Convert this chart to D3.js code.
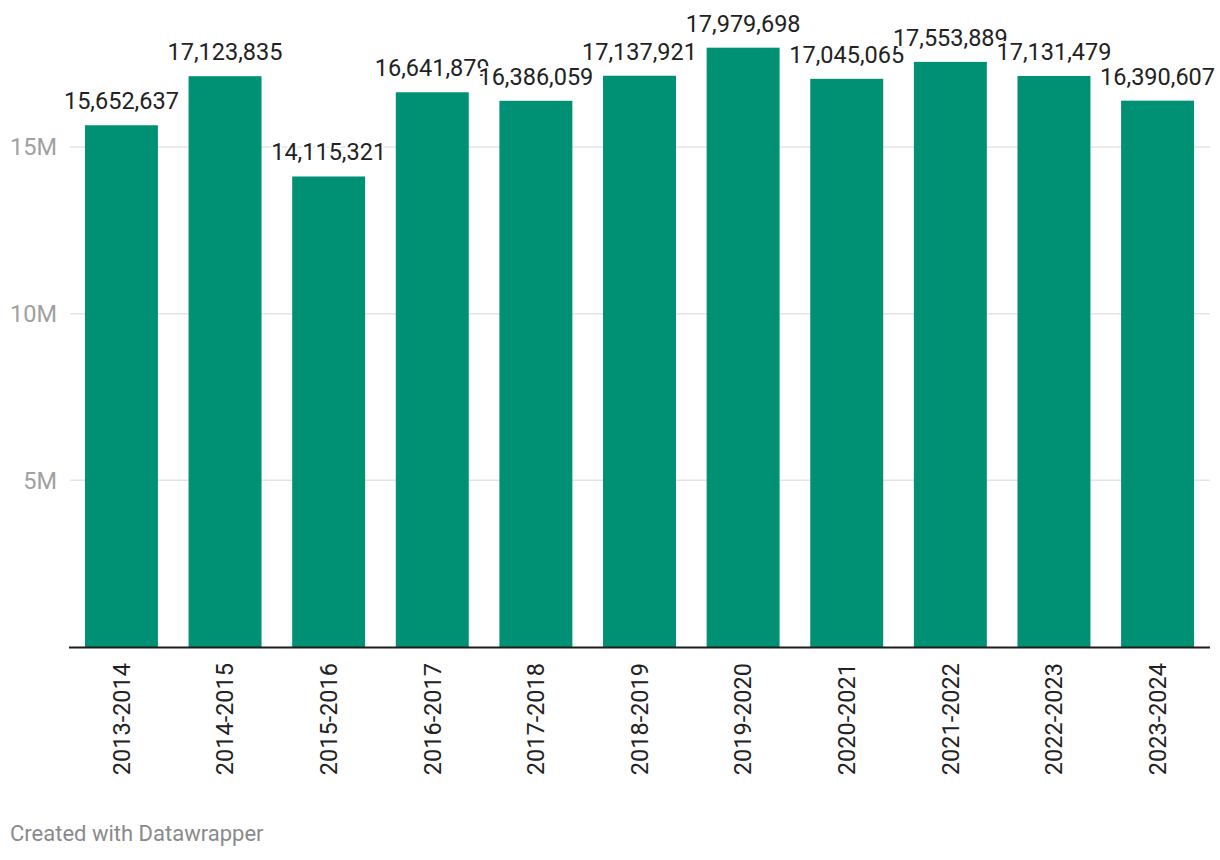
<!DOCTYPE html>
<html>
<head>
<meta charset="utf-8">
<script src="https://cdn.jsdelivr.net/npm/d3@7"></script>
<style>
  html, body { margin: 0; padding: 0; background: #fff; }
  svg { display: block; font-family: Roboto, "Noto Sans", sans-serif; }
</style>
</head>
<body>
<svg id="chart" width="1220" height="860"></svg>
<script>
const categories = ["2013-2014","2014-2015","2015-2016","2016-2017","2017-2018","2018-2019","2019-2020","2020-2021","2021-2022","2022-2023","2023-2024"];
const values = [15652637,17123835,14115321,16641879,16386059,17137921,17979698,17045065,17553889,17131479,16390607];
const yTicks = [5000000, 10000000, 15000000];
const yTickLabels = ["5M", "10M", "15M"];
const footer = "Created with Datawrapper";

const svg = d3.select("#chart");
const mLeft = 69, mRight = 1210, mTop = 47, mBottom = 647;

const x = d3.scaleBand().domain(categories).range([mLeft, mRight]).paddingInner(0.296).paddingOuter(0.154);
const y = d3.scaleLinear().domain([0, 18000000]).range([mBottom, mTop]);

// gridlines
svg.append("g").selectAll("line").data(yTicks).join("line")
  .attr("x1", mLeft + 1).attr("x2", mRight)
  .attr("y1", d => y(d)).attr("y2", d => y(d))
  .attr("stroke", "#e4e4e4").attr("stroke-width", 1.5);

// y labels
svg.append("g").selectAll("text").data(yTicks).join("text")
  .attr("x", 57).attr("y", d => y(d))
  .attr("dy", "0.35em")
  .attr("text-anchor", "end")
  .attr("fill", "#a0a0a0")
  .attr("font-size", "23.5px")
  .text((d, i) => yTickLabels[i]);

// bars
svg.append("g").selectAll("rect").data(values).join("rect")
  .attr("x", (d, i) => x(categories[i]))
  .attr("width", x.bandwidth())
  .attr("y", d => y(d))
  .attr("height", d => y(0) - y(d))
  .attr("fill", "#009073");

// axis line
svg.append("line")
  .attr("x1", mLeft).attr("x2", mRight)
  .attr("y1", mBottom + 0.5).attr("y2", mBottom + 0.5)
  .attr("stroke", "#1d1d1d").attr("stroke-width", 2);

// value labels with halo
const fmt = d3.format(",");
const vl = svg.append("g");
values.forEach((d, i) => {
  vl.append("text")
    .attr("x", x(categories[i]) + x.bandwidth() / 2)
    .attr("y", y(d) - 16)
    .attr("text-anchor", "middle")
    .attr("font-size", "23.5px")
    .attr("fill", "#222")
    .attr("stroke", "#fff")
    .attr("stroke-width", 4)
    .attr("stroke-linejoin", "round")
    .attr("paint-order", "stroke")
    .text(fmt(d));
});

// x labels
svg.append("g").selectAll("text").data(categories).join("text")
  .attr("transform", d => `translate(${x(d) + x.bandwidth() / 2},663) rotate(-90)`)
  .attr("text-anchor", "end")
  .attr("dy", "0.35em")
  .attr("font-size", "23.5px")
  .attr("fill", "#222")
  .text(d => d);

// footer
svg.append("text")
  .attr("x", 10).attr("y", 841)
  .attr("font-size", "22px")
  .attr("fill", "#8a8a8a")
  .text(footer);
</script>
</body>
</html>
